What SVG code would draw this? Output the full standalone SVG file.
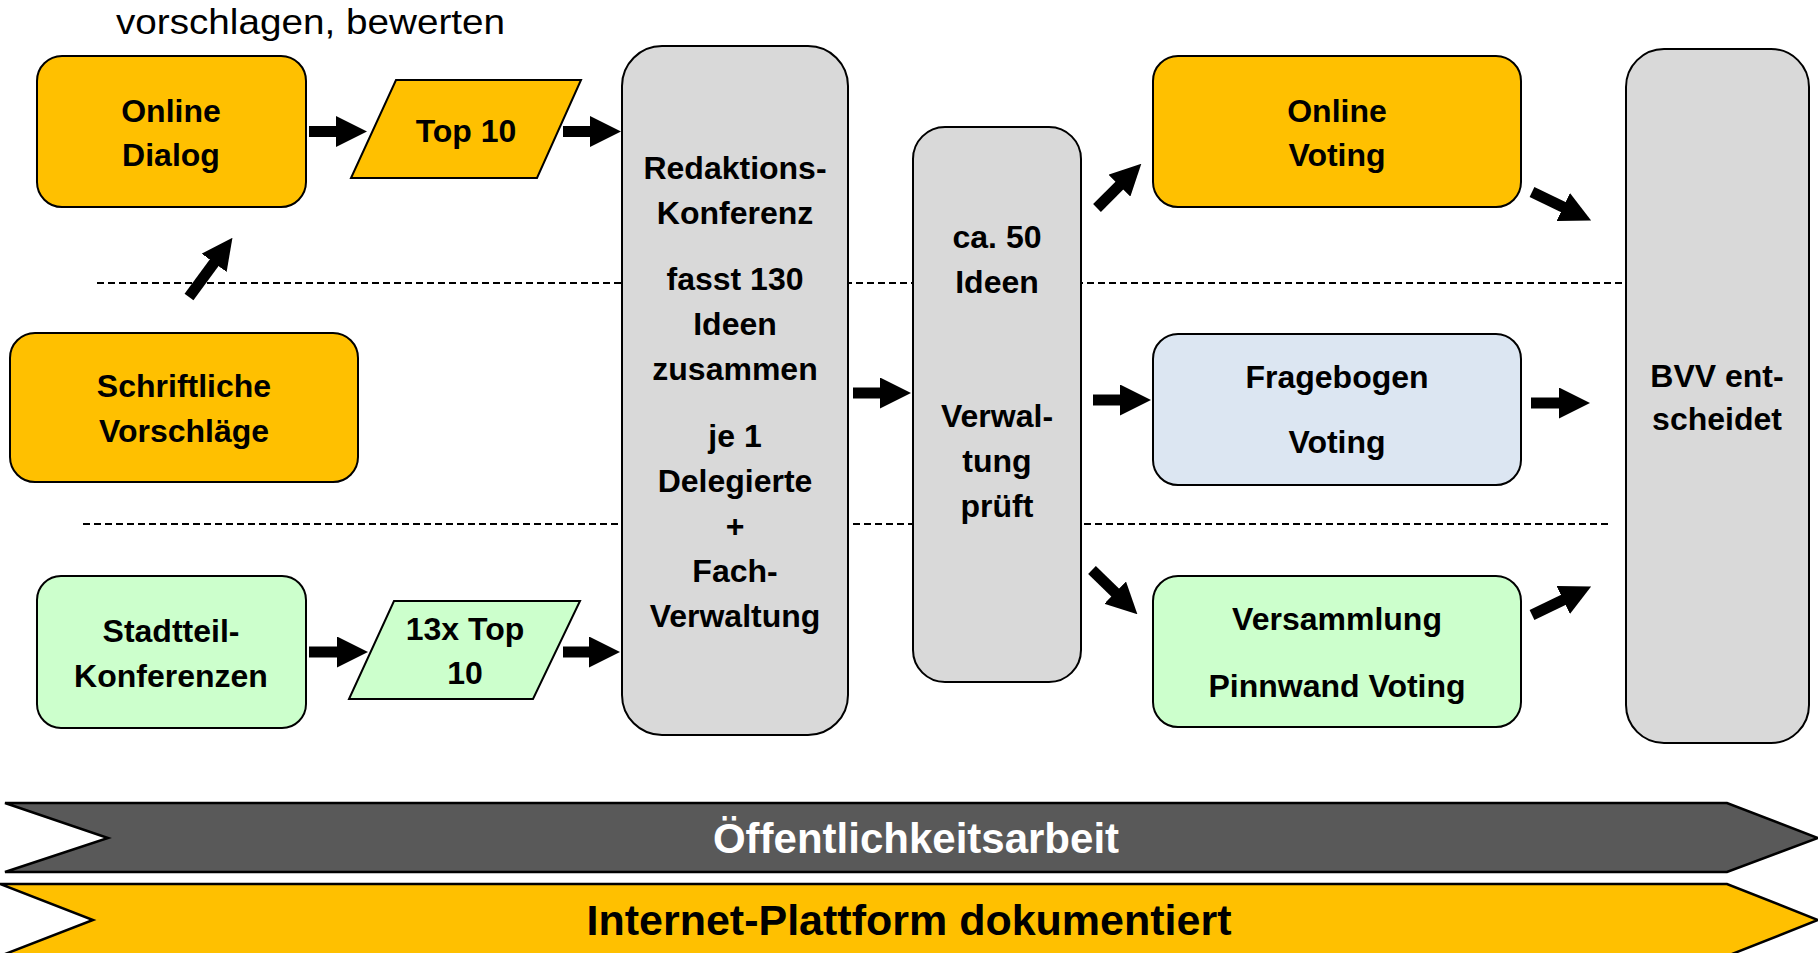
<svg xmlns="http://www.w3.org/2000/svg" width="1818" height="953" viewBox="0 0 1818 953">
  <style>
    .box { stroke: #000; stroke-width: 2; }
    .yel { fill: #FFC000; }
    .grn { fill: #CCFFCC; }
    .gry { fill: #D9D9D9; }
    .blu { fill: #DCE6F2; }
    .t { font-family: "Liberation Sans", Arial, sans-serif; font-weight: bold; font-size: 32px; text-anchor: middle; fill: #000; }
    .dash { stroke: #000; stroke-width: 2; stroke-dasharray: 7 4; fill: none; }
    .conn line { stroke: #000; stroke-width: 11; marker-end: url(#ah); }
    .ban { font-family: "Liberation Sans", Arial, sans-serif; font-weight: bold; text-anchor: middle; }
  </style>
  <defs>
    <marker id="ah" markerUnits="userSpaceOnUse" markerWidth="31" markerHeight="31" viewBox="0 0 31 31" refX="1" refY="15.5" orient="auto">
      <path d="M0,0 L31,15.5 L0,31 Z" fill="#000"/>
    </marker>
  </defs>
  <rect width="1818" height="953" fill="#fff"/>

  <g id="separators">
    <line class="dash" x1="97" y1="283" x2="1625" y2="283"/>
    <line class="dash" x1="83" y1="524" x2="1609" y2="524"/>
  </g>

  <text x="116" y="34" font-family="Liberation Sans, Arial, sans-serif" font-size="35" textLength="389" lengthAdjust="spacingAndGlyphs" fill="#000">vorschlagen, bewerten</text>

  <g id="online-dialog">
    <rect class="box yel" x="37" y="56" width="269" height="151" rx="25"/>
    <text class="t" x="171" y="122">Online</text>
    <text class="t" x="171" y="166">Dialog</text>
  </g>
  <g id="top10">
    <polygon class="box yel" points="396,80 581,80 537,178 351,178"/>
    <text class="t" x="466" y="142">Top 10</text>
  </g>
  <g id="schriftliche">
    <rect class="box yel" x="10" y="333" width="348" height="149" rx="25"/>
    <text class="t" x="184" y="397">Schriftliche</text>
    <text class="t" x="184" y="442">Vorschläge</text>
  </g>
  <g id="stadtteil">
    <rect class="box grn" x="37" y="576" width="269" height="152" rx="24"/>
    <text class="t" x="171" y="642">Stadtteil-</text>
    <text class="t" x="171" y="687">Konferenzen</text>
  </g>
  <g id="top10-13x">
    <polygon class="box grn" points="394,601 580,601 533,699 349,699"/>
    <text class="t" x="465" y="640">13x Top</text>
    <text class="t" x="465" y="684">10</text>
  </g>
  <g id="redaktion">
    <rect class="box gry" x="622" y="46" width="226" height="689" rx="40"/>
    <text class="t" x="735" y="179">Redaktions-</text>
    <text class="t" x="735" y="224">Konferenz</text>
    <text class="t" x="735" y="290">fasst 130</text>
    <text class="t" x="735" y="335">Ideen</text>
    <text class="t" x="735" y="380">zusammen</text>
    <text class="t" x="735" y="447">je 1</text>
    <text class="t" x="735" y="492">Delegierte</text>
    <text class="t" x="735" y="537">+</text>
    <text class="t" x="735" y="582">Fach-</text>
    <text class="t" x="735" y="627">Verwaltung</text>
  </g>
  <g id="verwaltung">
    <rect class="box gry" x="913" y="127" width="168" height="555" rx="32"/>
    <text class="t" x="997" y="248">ca. 50</text>
    <text class="t" x="997" y="293">Ideen</text>
    <text class="t" x="997" y="427">Verwal-</text>
    <text class="t" x="997" y="472">tung</text>
    <text class="t" x="997" y="517">prüft</text>
  </g>
  <g id="online-voting">
    <rect class="box yel" x="1153" y="56" width="368" height="151" rx="25"/>
    <text class="t" x="1337" y="122">Online</text>
    <text class="t" x="1337" y="166">Voting</text>
  </g>
  <g id="fragebogen">
    <rect class="box blu" x="1153" y="334" width="368" height="151" rx="25"/>
    <text class="t" x="1337" y="388">Fragebogen</text>
    <text class="t" x="1337" y="453">Voting</text>
  </g>
  <g id="versammlung">
    <rect class="box grn" x="1153" y="576" width="368" height="151" rx="25"/>
    <text class="t" x="1337" y="630">Versammlung</text>
    <text class="t" x="1337" y="697">Pinnwand Voting</text>
  </g>
  <g id="bvv">
    <rect class="box gry" x="1626" y="49" width="183" height="694" rx="38"/>
    <text class="t" x="1717" y="387">BVV ent-</text>
    <text class="t" x="1717" y="430">scheidet</text>
  </g>

  <g id="connectors" class="conn">
    <line x1="309" y1="131.5" x2="337" y2="131.5"/>
    <line x1="563" y1="131.5" x2="591" y2="131.5"/>
    <line x1="309" y1="652" x2="338" y2="652"/>
    <line x1="563" y1="652" x2="590" y2="652"/>
    <line x1="189" y1="297" x2="214.7" y2="262"/>
    <line x1="853" y1="393" x2="881" y2="393"/>
    <line x1="1097" y1="208" x2="1120.1" y2="184.9"/>
    <line x1="1093" y1="400" x2="1121" y2="400"/>
    <line x1="1092" y1="570" x2="1115.9" y2="593.3"/>
    <line x1="1532" y1="192" x2="1564.1" y2="207.5"/>
    <line x1="1531" y1="403" x2="1560" y2="403"/>
    <line x1="1532" y1="615" x2="1564.1" y2="599.5"/>
  </g>

  <g id="banner-oeffentlichkeit">
    <polygon points="5,803 1727,803 1818,838 1727,872 5,872 108,838" fill="#595959" stroke="#000" stroke-width="2.5"/>
    <text class="ban" x="916" y="853" font-size="42" fill="#fff">Öffentlichkeitsarbeit</text>
  </g>
  <g id="banner-internet">
    <polygon points="0,884 1727,884 1818,920 1727,956 0,956 93,920" fill="#FFC000" stroke="#000" stroke-width="2.5"/>
    <text class="ban" x="909" y="935" font-size="43" fill="#000">Internet-Plattform dokumentiert</text>
  </g>
</svg>
